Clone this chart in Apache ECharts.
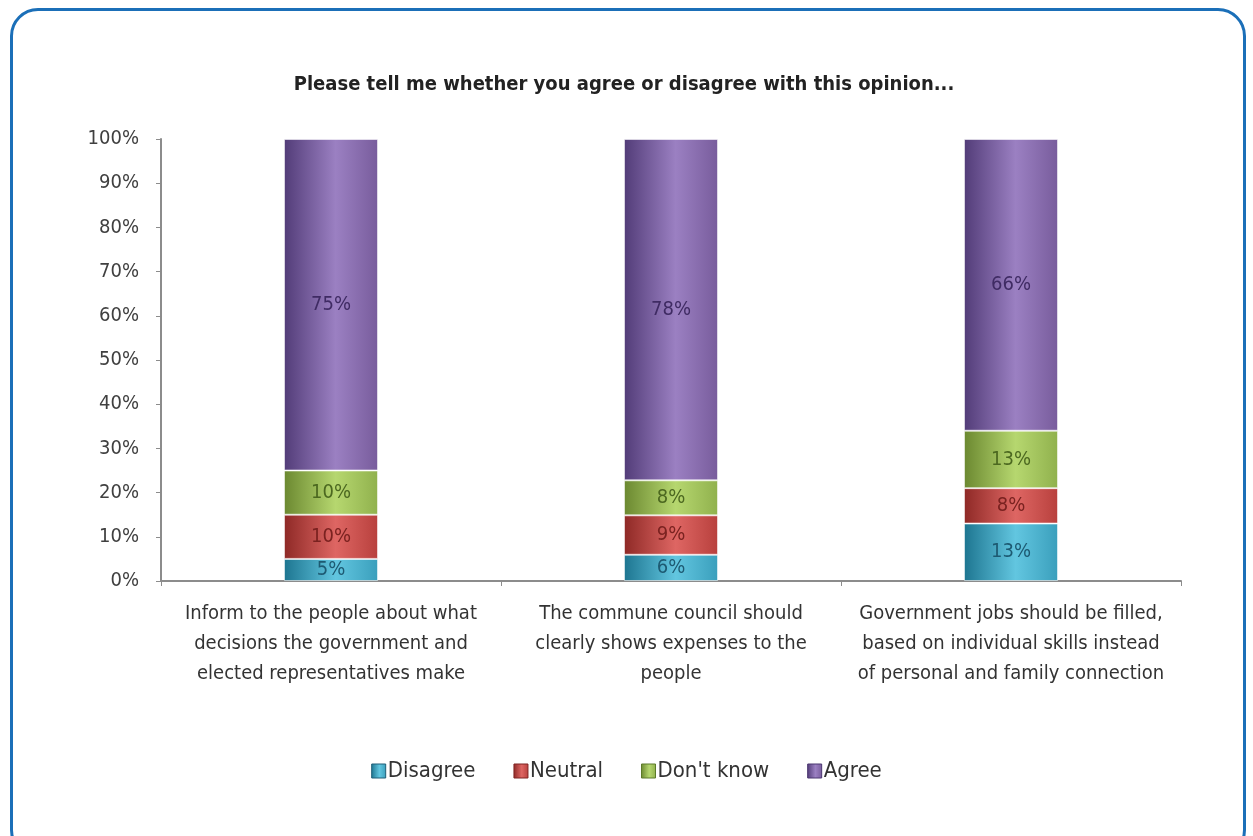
<!DOCTYPE html>
<html>
<head>
<meta charset="utf-8">
<title>Opinion survey</title>
<script src="https://cdn.jsdelivr.net/npm/echarts@6/dist/echarts.min.js"></script>
<style>
  html, body { margin: 0; padding: 0; background: #ffffff; overflow: hidden; }
  #frame {
    position: absolute; left: 10px; top: 8px; width: 1236px; height: 850px;
    border: 3px solid #1b6fb8; border-radius: 28px; box-sizing: border-box;
  }
  #chart { position: absolute; left: 0; top: 0; width: 1253px; height: 836px; }
</style>
</head>
<body>
<div id="frame"></div>
<div id="chart"></div>
<script>
// Survey statements (x-axis categories)
const categories = [
  'Inform to the people about what\ndecisions the government and\nelected representatives make',
  'The commune council should\nclearly shows expenses to the\npeople',
  'Government jobs should be filled,\nbased on individual skills instead\nof personal and family connection'
];

// Response shares, in percent, per statement
const disagree = [5, 6, 13];
const neutral  = [10, 9, 8];
const dontKnow = [10, 8, 13];
const agree    = [75, 78, 66];

const yTicks = [0, 10, 20, 30, 40, 50, 60, 70, 80, 90, 100];

const FONT = "'Liberation Sans Narrow', 'DejaVu Sans Condensed', 'Open Sans', sans-serif";

const seriesDefs = [
  { name: 'Disagree',   values: disagree, stops: ['#1d7590', '#62c6e0', '#3a9fbc'], label: '#1d5a72', border: '#1f5f78' },
  { name: 'Neutral',    values: neutral,  stops: ['#8e2926', '#de6663', '#b8403d'], label: '#7a2220', border: '#7f2422' },
  { name: "Don't know", values: dontKnow, stops: ['#6b8830', '#b6d76f', '#90b14d'], label: '#4c6820', border: '#5c7a2a' },
  { name: 'Agree',      values: agree,    stops: ['#523c78', '#9b80c2', '#785c9c'], label: '#3f2b63', border: '#4a3670' }
];

// Stacks are normalised so every column fills 100%
const totals = categories.map((_, i) =>
  seriesDefs.reduce((s, d) => s + d.values[i], 0));

function cylinder(stops) {
  return new echarts.graphic.LinearGradient(0, 0, 1, 0, [
    { offset: 0, color: stops[0] },
    { offset: 0.55, color: stops[1] },
    { offset: 1, color: stops[2] }
  ]);
}

const chart = echarts.init(document.getElementById('chart'), null, { renderer: 'canvas' });

chart.setOption({
  animation: false,
  backgroundColor: 'transparent',
  title: {
    text: 'Please tell me whether you agree or disagree with this opinion...',
    left: 619, top: 70, textAlign: 'center',
    textStyle: { fontFamily: FONT, fontSize: 20, fontWeight: 'bold', color: '#222' }
  },
  legend: {
    bottom: 49, left: 'center',
    itemWidth: 14, itemHeight: 14, itemGap: 38,
    icon: 'rect',
    textStyle: { fontFamily: FONT, fontSize: 22, color: '#333', padding: [0, 0, 0, -3] },
    data: seriesDefs.map(d => ({
      name: d.name,
      itemStyle: { color: cylinder(d.stops), borderColor: d.border, borderWidth: 1 }
    }))
  },
  grid: { left: 161, right: 72, top: 139, bottom: 255 },
  xAxis: {
    type: 'category',
    data: categories,
    axisLine: { lineStyle: { color: '#8c8c8c', width: 2 } },
    axisTick: { show: true, length: 5, lineStyle: { color: '#8c8c8c' } },
    axisLabel: {
      interval: 0, margin: 18, lineHeight: 30,
      fontFamily: FONT, fontSize: 20, color: '#333'
    }
  },
  yAxis: {
    type: 'value', min: 0, max: 100, interval: 10,
    axisLine: { show: true, lineStyle: { color: '#8c8c8c', width: 2 } },
    axisTick: { show: true, length: 5, lineStyle: { color: '#8c8c8c' } },
    splitLine: { show: false },
    axisLabel: {
      margin: 22, fontFamily: FONT, fontSize: 20, color: '#404040',
      formatter: v => yTicks.includes(v) ? v + '%' : ''
    }
  },
  series: seriesDefs.map(d => ({
    name: d.name,
    type: 'bar',
    stack: 'total',
    barWidth: 94,
    data: d.values.map((v, i) => ({ value: v / totals[i] * 100, raw: v })),
    itemStyle: {
      color: cylinder(d.stops),
      borderColor: 'rgba(255,255,255,0.55)', borderWidth: 1
    },
    label: {
      show: true, position: 'inside',
      fontFamily: FONT, fontSize: 20, color: d.label,
      formatter: p => d.values[p.dataIndex] + '%'
    }
  }))
});
</script>
</body>
</html>
